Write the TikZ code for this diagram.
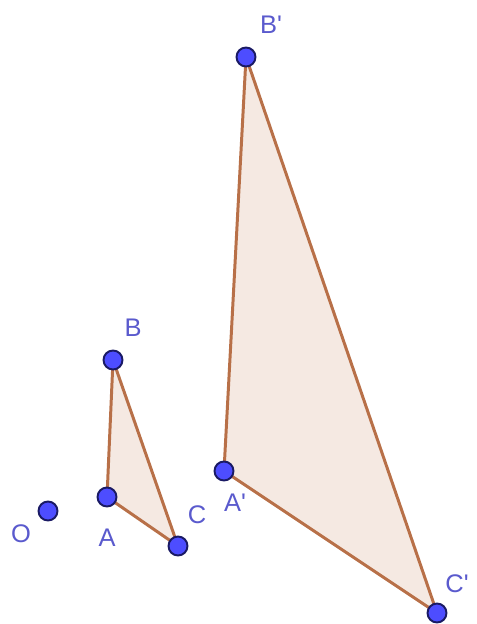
\documentclass[tikz,border=0pt]{standalone}
\usepackage{fontspec}
\setmainfont{Liberation Sans}
\usepackage{tikz}
\usetikzlibrary{positioning, calc}
\usepackage{xcolor}
\definecolor{ptblue}{RGB}{77,77,255}
\definecolor{ptrim}{RGB}{26,26,100}
\definecolor{edgebrown}{RGB}{184,112,72}
\definecolor{facefill}{RGB}{245,233,226}
\definecolor{labblue}{RGB}{90,90,205}

\begin{document}
\begin{tikzpicture}[
    x=0.02cm, y=-0.02cm,
    pt/.style={circle, draw=ptrim, fill=ptblue, line width=1.1pt, inner sep=0pt, minimum size=0.38cm},
    edge/.style={draw=edgebrown, line width=1.7pt, line join=round},
    face/.style={fill=facefill},
    lab/.style={text=labblue, font=\fontsize{14.5}{16}\selectfont, inner sep=0pt}
]
\useasboundingbox (0,0) rectangle (476,624);

% centre and the two triangles
\coordinate (cO) at (48,511);
\coordinate (cA) at (107,497);
\coordinate (cB) at (113,360);
\coordinate (cC) at (178,546);
\coordinate (cA2) at (224,471);
\coordinate (cB2) at (246,57);
\coordinate (cC2) at (437,613);

\fill[face] (cA) -- (cB) -- (cC) -- cycle;
\fill[face] (cA2) -- (cB2) -- (cC2) -- cycle;
\draw[edge] (cA) -- (cB) -- (cC) -- cycle;
\draw[edge] (cA2) -- (cB2) -- (cC2) -- cycle;

\node[pt] (O) at (cO) {};
\node[pt] (A) at (cA) {};
\node[pt] (B) at (cB) {};
\node[pt] (C) at (cC) {};
\node[pt] (A2) at (cA2) {};
\node[pt] (B2) at (cB2) {};
\node[pt] (C2) at (cC2) {};

% labels
\node[lab] (labO) at (21,534) {O};
\node[lab] (labA) at (107,538) {A};
\node[lab] (labB) at (133,328) {B};
\node[lab] (labC) at (197,515) {C};
\node[lab] (labA2) at (235,503) {A\textquotesingle};
\node[lab] (labB2) at (271,25) {B\textquotesingle};
\node[lab] (labC2) at (457,584) {C\textquotesingle};

\end{tikzpicture}
\end{document}
